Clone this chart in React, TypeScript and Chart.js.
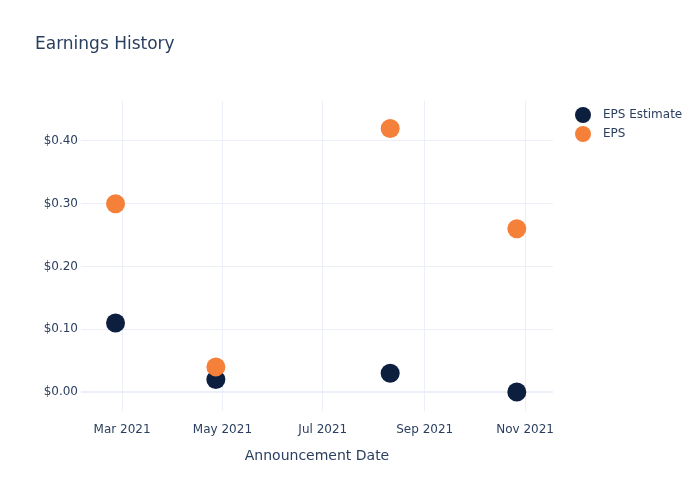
import React, { useEffect, useRef } from "react";
import { Chart, registerables } from "chart.js";

Chart.register(...registerables);

const seriesNames = ["EPS Estimate", "EPS"];
const announcementDates = [
  Date.UTC(2021, 1, 25),
  Date.UTC(2021, 3, 27),
  Date.UTC(2021, 7, 11),
  Date.UTC(2021, 9, 27),
];
const epsEstimate = [0.11, 0.02, 0.03, 0.0];
const epsActual = [0.3, 0.04, 0.42, 0.26];
const xTickValues = [
  Date.UTC(2021, 2, 1),
  Date.UTC(2021, 4, 1),
  Date.UTC(2021, 6, 1),
  Date.UTC(2021, 8, 1),
  Date.UTC(2021, 10, 1),
];
const xTickLabels = ["Mar 2021", "May 2021", "Jul 2021", "Sep 2021", "Nov 2021"];
const yTickValues = [0, 0.1, 0.2, 0.3, 0.4];
const xMin = Date.UTC(2021, 1, 4);
const xMax = Date.UTC(2021, 10, 18);
const yMin = -0.0303;
const yMax = 0.4637;

const colors = ["#0c1f3f", "#f5803a"];
const textColor = "#2a3f5f";
const gridColor = "#ebf0f8";
const FONT = "'DejaVu Sans', sans-serif";

export default function App() {
  const ref = useRef<HTMLCanvasElement>(null);
  useEffect(() => {
    const canvas = ref.current;
    if (!canvas) return;
    const overlay = {
      id: "overlay",
      afterDraw(chart: any) {
        const ctx = chart.ctx;
        ctx.save();
        ctx.fillStyle = textColor;
        ctx.font = `17px ${FONT}`;
        ctx.textBaseline = "middle";
        ctx.textAlign = "left";
        ctx.fillText("Earnings History", 35, 45);
        seriesNames.forEach((name, i) => {
          const y = 115 + i * 19;
          ctx.beginPath();
          ctx.arc(583, y, 8, 0, Math.PI * 2);
          ctx.fillStyle = colors[i];
          ctx.fill();
          ctx.fillStyle = textColor;
          ctx.font = `12px ${FONT}`;
          ctx.fillText(name, 603, y);
        });
        ctx.restore();
      },
    };
    const chart = new Chart(canvas, {
      type: "scatter",
      data: {
        datasets: [
          {
            label: seriesNames[0],
            data: announcementDates.map((d, i) => ({ x: d, y: epsEstimate[i] })),
            backgroundColor: colors[0],
            borderWidth: 0,
            pointRadius: 9.5,
            order: 1,
          },
          {
            label: seriesNames[1],
            data: announcementDates.map((d, i) => ({ x: d, y: epsActual[i] })),
            backgroundColor: colors[1],
            borderWidth: 0,
            pointRadius: 9.5,
            order: 0,
          },
        ],
      },
      options: {
        responsive: false,
        animation: false,
        layout: { padding: { top: 101, right: 147, left: 0, bottom: 0 } },
        plugins: { legend: { display: false }, tooltip: { enabled: false }, title: { display: false } },
        scales: {
          x: {
            type: "linear",
            min: xMin,
            max: xMax,
            afterBuildTicks: (s: any) => {
              s.ticks = xTickValues.map((v) => ({ value: v }));
            },
            afterFit: (s: any) => {
              s.height = 89;
            },
            ticks: {
              autoSkip: false,
              maxRotation: 0,
              padding: 12,
              color: textColor,
              font: { family: FONT, size: 12 },
              callback: (v: any) => {
                const i = xTickValues.indexOf(Number(v));
                return i >= 0 ? xTickLabels[i] : "";
              },
            },
            grid: { color: gridColor, drawTicks: false, lineWidth: 1 },
            border: { display: false },
            title: {
              display: true,
              text: "Announcement Date",
              color: textColor,
              font: { family: FONT, size: 14 },
              padding: { top: 0, bottom: 35 },
            },
          },
          y: {
            min: yMin,
            max: yMax,
            afterBuildTicks: (s: any) => {
              s.ticks = yTickValues.map((v) => ({ value: v }));
            },
            afterFit: (s: any) => {
              s.width = 81;
            },
            ticks: {
              padding: 3,
              color: textColor,
              font: { family: FONT, size: 12 },
              callback: (v: any) => "$" + Number(v).toFixed(2),
            },
            grid: {
              drawTicks: false,
              color: gridColor,
              lineWidth: (c: any) => (c.tick && c.tick.value === 0 ? 2 : 1),
            },
            border: { display: false },
          },
        },
      },
      plugins: [overlay],
    });
    return () => chart.destroy();
  }, []);
  return (
    <div style={{ position: "fixed", left: 0, top: 0, width: 700, height: 500, background: "#fff" }}>
      <canvas ref={ref} width={700} height={500} style={{ width: 700, height: 500 }} />
    </div>
  );
}
